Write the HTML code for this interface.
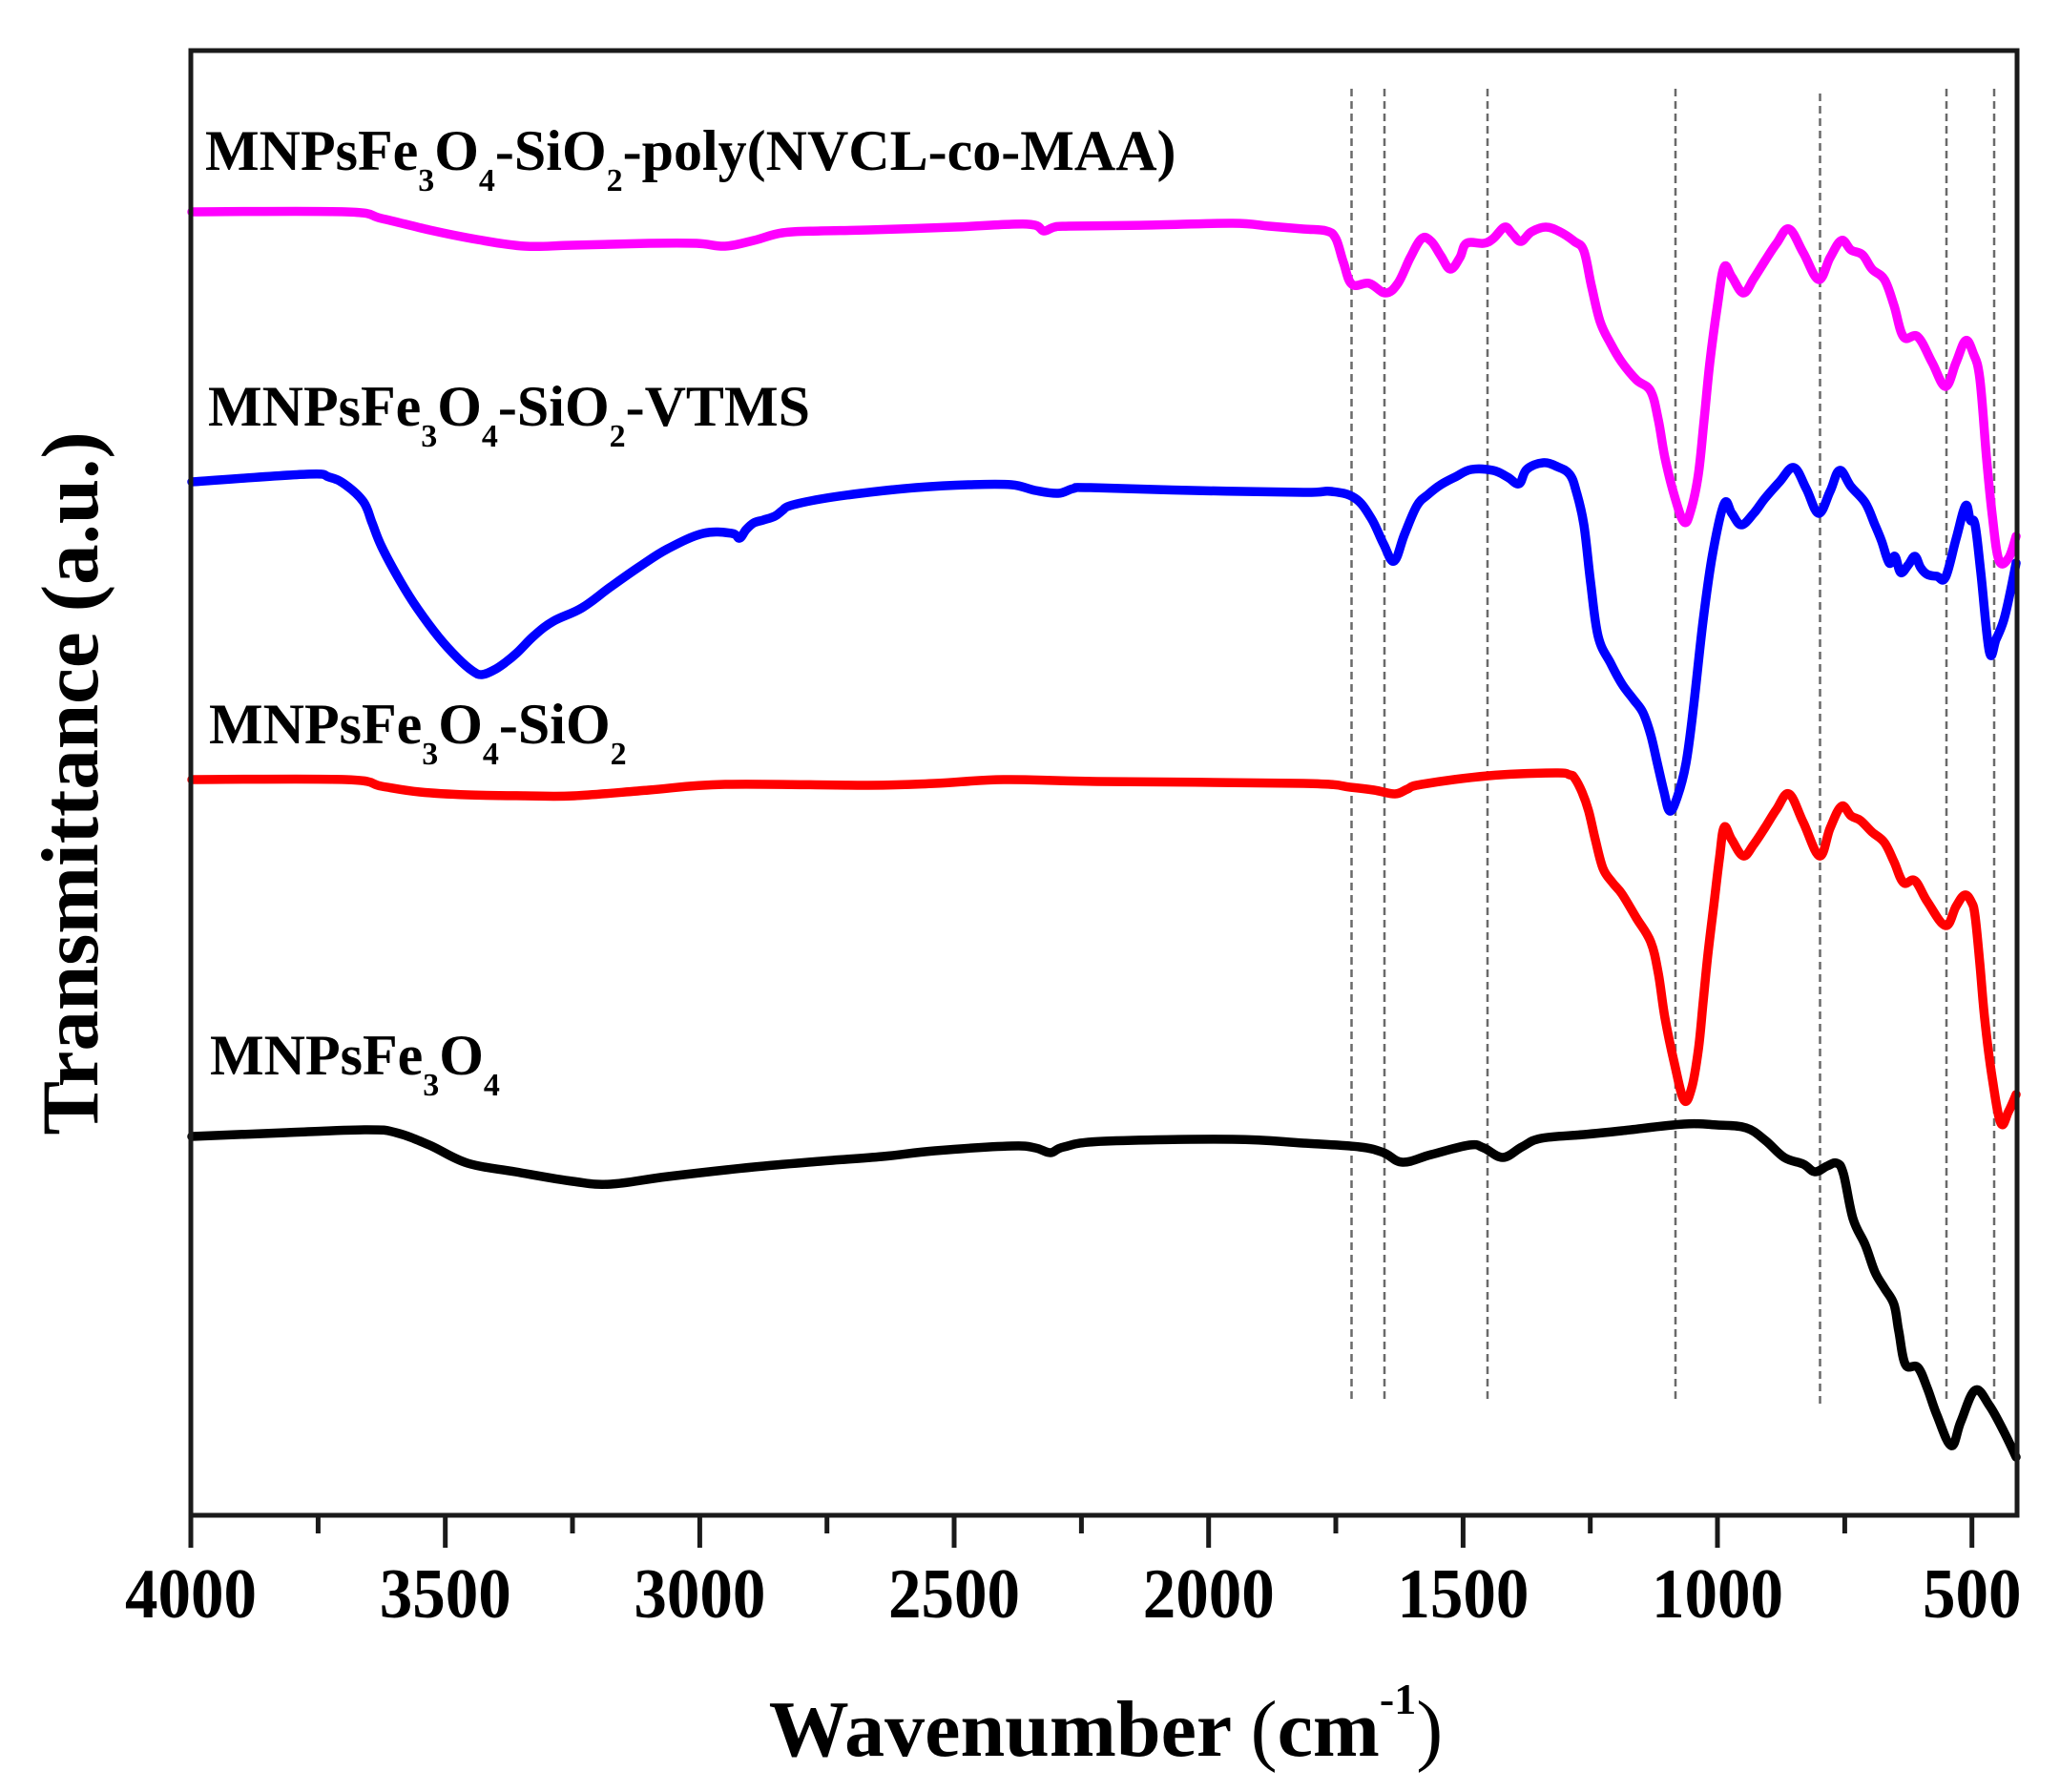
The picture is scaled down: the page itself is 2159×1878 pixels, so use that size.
<!DOCTYPE html>
<html>
<head>
<meta charset="utf-8">
<style>
html,body{margin:0;padding:0;background:#fff;}
svg{display:block;}
text{font-family:"Liberation Serif","Times New Roman",serif;font-weight:bold;fill:#000;}
</style>
</head>
<body>
<svg id="chart" width="2159" height="1878" viewBox="0 0 2159 1878" xmlns="http://www.w3.org/2000/svg">
<rect width="2159" height="1878" fill="#fff"/>

<!-- dashed reference lines -->
<g stroke="#6a6a6a" stroke-width="2.5" stroke-dasharray="8 5" fill="none">
<line x1="1416.5" y1="93" x2="1416.5" y2="1468"/>
<line x1="1451" y1="93" x2="1451" y2="1466"/>
<line x1="1559" y1="93" x2="1559" y2="1468"/>
<line x1="1756" y1="93" x2="1756" y2="1468"/>
<line x1="1907.5" y1="98" x2="1907.5" y2="1472"/>
<line x1="2040" y1="93" x2="2040" y2="1468"/>
<line x1="2090" y1="93" x2="2090" y2="1468"/>
</g>

<g fill="none" stroke-width="9.5" stroke-linejoin="round" stroke-linecap="round">
<!-- magenta -->
<polyline class="sm" stroke="#ff00ff" points="201,222 362,222 400,229 450,241 500,251 550,258 600,257 680,255 730,255 760,258 790,252 820,244 860,242 910,241 1000,238 1060,235 1085,236 1094,242 1105,238 1120,237 1200,236 1292,234 1330,237 1366,240 1390,242 1400,250 1408,275 1417,298 1435,297 1452,307 1465,297 1478,270 1490,250 1500,253 1510,268 1520,282 1530,270 1537,255 1555,255 1565,250 1577,238 1585,245 1594,253 1605,243 1620,238 1635,243 1650,253 1660,263 1668,300 1677,337 1688,360 1700,380 1715,398 1730,410 1738,440 1745,480 1755,520 1765,547 1772,535 1780,497 1786,440 1792,380 1800,320 1807,280 1815,290 1827,307 1838,292 1850,273 1862,255 1875,240 1890,265 1906,293 1918,270 1930,252 1940,262 1952,267 1962,282 1975,293 1985,320 1995,353 2010,353 2025,380 2039,405 2050,380 2060,357 2068,370 2075,397 2082,480 2088,540 2095,587 2105,585 2113,562"/>
<!-- blue -->
<polyline class="sm" stroke="#0000ff" points="201,505 321,497 345,500 362,508 381,526 390,548 400,573 420,610 437,637 460,668 480,690 495,703 505,707 518,702 530,694 542,684 560,666 580,651 610,637 640,615 670,594 700,575 737,559 767,559 775,564 782,555 790,548 800,545 812,541 820,535 828,530 860,523 902,517 960,511 1015,508 1060,508 1085,514 1109,517 1125,512 1142,511 1250,514 1366,516 1395,515 1420,522 1437,543 1450,570 1461,588 1472,560 1485,530 1497,518 1510,508 1525,500 1542,492 1565,493 1580,500 1592,507 1600,492 1617,485 1632,489 1645,497 1652,515 1660,550 1667,610 1675,667 1688,695 1700,717 1712,733 1722,747 1730,770 1737,800 1744,830 1750,850 1758,835 1767,800 1775,740 1785,650 1795,580 1807,528 1815,538 1825,550 1838,538 1850,522 1865,505 1880,490 1893,512 1906,538 1918,515 1928,493 1940,510 1955,527 1965,550 1972,567 1980,590 1986,583 1992,600 2000,592 2007,583 2013,595 2020,602 2030,604 2039,605 2050,565 2060,530 2065,545 2070,550 2076,600 2085,683 2092,670 2100,650 2107,620 2113,590"/>
<!-- red -->
<polyline class="sm" stroke="#ff0000" points="201,817 362,817 400,824 440,830 490,833 550,834 602,834 680,828 760,822 910,823 980,821 1052,817 1150,819 1366,821 1415,825 1440,828 1462,832 1475,827 1490,822 1560,813 1630,810 1645,812 1650,815 1658,830 1665,850 1672,880 1680,910 1690,925 1700,937 1715,962 1730,987 1738,1020 1745,1067 1755,1115 1765,1153 1773,1140 1780,1100 1785,1050 1790,1000 1796,950 1802,900 1807,867 1815,880 1827,897 1838,885 1850,867 1862,848 1875,832 1890,862 1907,897 1918,868 1930,845 1940,855 1950,860 1962,872 1975,883 1985,903 1995,925 2007,923 2020,945 2039,970 2050,950 2059,938 2066,945 2070,960 2075,1010 2080,1067 2088,1130 2097,1177 2105,1165 2113,1147"/>
<!-- black -->
<polyline class="sm" stroke="#000000" points="201,1191 300,1187 385,1184 415,1187 450,1200 490,1219 540,1228 600,1238 640,1241 700,1233 790,1223 860,1217 925,1212 980,1206 1060,1201 1085,1203 1101,1208 1115,1202 1157,1196 1292,1194 1366,1198 1425,1202 1450,1208 1470,1218 1500,1210 1540,1200 1555,1203 1575,1213 1595,1202 1615,1193 1660,1189 1700,1185 1765,1178 1800,1179 1830,1182 1850,1195 1870,1213 1890,1220 1902,1228 1915,1222 1925,1219 1932,1230 1942,1277 1955,1305 1965,1333 1975,1350 1985,1367 1990,1395 1997,1430 2010,1433 2020,1455 2030,1483 2045,1515 2055,1490 2070,1457 2085,1473 2100,1500 2113,1527"/>
</g>

<!-- frame -->
<rect x="200" y="53" width="1914" height="1535" fill="none" stroke="#1a1a1a" stroke-width="5"/>

<!-- ticks -->
<g stroke="#1a1a1a" stroke-width="5">
<line x1="200" y1="1588" x2="200" y2="1622"/>
<line x1="466.7" y1="1588" x2="466.7" y2="1622"/>
<line x1="733.4" y1="1588" x2="733.4" y2="1622"/>
<line x1="1000" y1="1588" x2="1000" y2="1622"/>
<line x1="1266.7" y1="1588" x2="1266.7" y2="1622"/>
<line x1="1533.4" y1="1588" x2="1533.4" y2="1622"/>
<line x1="1800" y1="1588" x2="1800" y2="1622"/>
<line x1="2066.7" y1="1588" x2="2066.7" y2="1622"/>
<line x1="333.4" y1="1588" x2="333.4" y2="1607"/>
<line x1="600" y1="1588" x2="600" y2="1607"/>
<line x1="866.7" y1="1588" x2="866.7" y2="1607"/>
<line x1="1133.4" y1="1588" x2="1133.4" y2="1607"/>
<line x1="1400" y1="1588" x2="1400" y2="1607"/>
<line x1="1666.7" y1="1588" x2="1666.7" y2="1607"/>
<line x1="1933.4" y1="1588" x2="1933.4" y2="1607"/>
</g>

<!-- tick labels -->
<g font-size="69" text-anchor="middle">
<text transform="translate(200,1695) scale(1,1.07)">4000</text>
<text transform="translate(466.7,1695) scale(1,1.07)">3500</text>
<text transform="translate(733.4,1695) scale(1,1.07)">3000</text>
<text transform="translate(1000,1695) scale(1,1.07)">2500</text>
<text transform="translate(1266.7,1695) scale(1,1.07)">2000</text>
<text transform="translate(1533.4,1695) scale(1,1.07)">1500</text>
<text transform="translate(1800,1695) scale(1,1.07)">1000</text>
<text transform="translate(2066.7,1695) scale(1,1.07)">500</text>
</g>

<!-- axis titles -->
<text x="1159" y="1840" font-size="84" text-anchor="middle">Wavenumber <tspan font-weight="normal">(</tspan>cm<tspan font-size="46" dy="-44">-1</tspan><tspan dy="44" font-weight="normal">)</tspan></text>
<text transform="translate(102,821) rotate(-90)" x="0" y="0" font-size="85" text-anchor="middle">Transmittance (a.u.)</text>

<!-- series labels -->
<g font-size="60">
<text x="215" y="178">MNPsFe<tspan font-size="34" dy="22">3</tspan><tspan dy="-22">O</tspan><tspan font-size="34" dy="22">4</tspan><tspan dy="-22">-SiO</tspan><tspan font-size="34" dy="22">2</tspan><tspan dy="-22">-poly(NVCL-co-MAA)</tspan></text>
<text x="218" y="446">MNPsFe<tspan font-size="34" dy="22">3</tspan><tspan dy="-22">O</tspan><tspan font-size="34" dy="22">4</tspan><tspan dy="-22">-SiO</tspan><tspan font-size="34" dy="22">2</tspan><tspan dy="-22">-VTMS</tspan></text>
<text x="219" y="779">MNPsFe<tspan font-size="34" dy="22">3</tspan><tspan dy="-22">O</tspan><tspan font-size="34" dy="22">4</tspan><tspan dy="-22">-SiO</tspan><tspan font-size="34" dy="22">2</tspan></text>
<text x="220" y="1126">MNPsFe<tspan font-size="34" dy="22">3</tspan><tspan dy="-22">O</tspan><tspan font-size="34" dy="22">4</tspan></text>
</g>
</svg>
<script>
(function(){
  var NS="http://www.w3.org/2000/svg";
  var pls=document.querySelectorAll("polyline.sm");
  for(var k=0;k<pls.length;k++){
    var pl=pls[k];
    var raw=pl.getAttribute("points").trim().split(/\s+/);
    var p=raw.map(function(s){var a=s.split(",");return [parseFloat(a[0]),parseFloat(a[1])];});
    var d="M"+p[0][0]+","+p[0][1];
    for(var i=0;i<p.length-1;i++){
      var p0=p[i>0?i-1:i],p1=p[i],p2=p[i+1],p3=p[i+2<p.length?i+2:i+1];
      var t=0.18;
      var c1x=p1[0]+(p2[0]-p0[0])*t,c1y=p1[1]+(p2[1]-p0[1])*t;
      var c2x=p2[0]-(p3[0]-p1[0])*t,c2y=p2[1]-(p3[1]-p1[1])*t;
      d+=" C"+c1x.toFixed(1)+","+c1y.toFixed(1)+" "+c2x.toFixed(1)+","+c2y.toFixed(1)+" "+p2[0]+","+p2[1];
    }
    var path=document.createElementNS(NS,"path");
    path.setAttribute("d",d);
    path.setAttribute("stroke",pl.getAttribute("stroke"));
    path.setAttribute("fill","none");
    pl.parentNode.replaceChild(path,pl);
  }
})();
</script>
</body>
</html>
